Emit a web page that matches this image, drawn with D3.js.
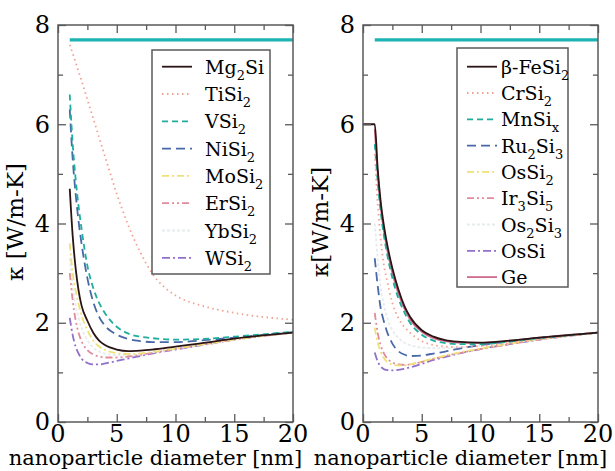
<!DOCTYPE html>
<html>
<head>
<meta charset="utf-8">
<script src="https://cdn.jsdelivr.net/npm/d3@7"></script>
<style>
  body { margin: 0; background: #fff; }
</style>
</head>
<body>
<svg width="615" height="471"></svg>
<script>
// diameters (nm) at which the curves were read
const dGrid = [1, 1.25, 1.5, 1.75, 2, 2.5, 3, 3.5, 4, 5, 6, 7, 8, 10, 12, 15, 20];

// left panel
const leftNames = ["Mg_2Si", "TiSi_2", "VSi_2", "NiSi_2", "MoSi_2", "ErSi_2", "YbSi_2", "WSi_2"];
const mg2si  = [4.7, 3.75, 3.1, 2.65, 2.35, 2.04, 1.8, 1.64, 1.55, 1.46, 1.43, 1.44, 1.46, 1.52, 1.58, 1.68, 1.8];
const tisi2  = [7.6, 7.43, 7.25, 7.06, 6.88, 6.5, 6.12, 5.73, 5.35, 4.6, 3.95, 3.42, 3.0, 2.55, 2.36, 2.2, 2.06];
const vsi2   = [6.6, 5.6, 4.9, 4.35, 3.9, 3.15, 2.7, 2.4, 2.19, 1.92, 1.78, 1.72, 1.69, 1.66, 1.67, 1.72, 1.82];
const nisi2  = [6.3, 5.3, 4.6, 4.05, 3.6, 2.9, 2.42, 2.12, 1.94, 1.76, 1.67, 1.63, 1.61, 1.61, 1.64, 1.7, 1.81];
const mosi2  = [3.6, 3.0, 2.65, 2.38, 2.15, 1.85, 1.64, 1.52, 1.45, 1.39, 1.37, 1.38, 1.41, 1.48, 1.55, 1.66, 1.8];
const ersi2  = [3.0, 2.45, 2.05, 1.8, 1.63, 1.45, 1.36, 1.32, 1.3, 1.3, 1.32, 1.35, 1.39, 1.47, 1.55, 1.66, 1.8];
const ybsi2  = [3.3, 2.75, 2.35, 2.1, 1.9, 1.65, 1.5, 1.42, 1.38, 1.35, 1.35, 1.37, 1.4, 1.47, 1.55, 1.66, 1.8];
const wsi2   = [2.1, 1.75, 1.52, 1.38, 1.28, 1.19, 1.16, 1.16, 1.18, 1.23, 1.28, 1.33, 1.38, 1.46, 1.54, 1.66, 1.8];

// right panel
const rightNames = ["β-FeSi_2", "CrSi_2", "MnSi_x", "Ru_2Si_3", "OsSi_2", "Ir_3Si_5", "Os_2Si_3", "OsSi", "Ge"];
const fesi2Grid = [0].concat(dGrid);
const fesi2  = [6.0, 6.0, 5.1, 4.45, 4.0, 3.65, 3.1, 2.68, 2.35, 2.12, 1.85, 1.72, 1.65, 1.62, 1.6, 1.63, 1.7, 1.8];
const crsi2  = [5.4, 4.4, 3.7, 3.2, 2.9, 2.4, 2.1, 1.92, 1.8, 1.63, 1.55, 1.52, 1.51, 1.53, 1.58, 1.67, 1.8];
const mnsix  = [5.6, 4.85, 4.25, 3.8, 3.45, 2.9, 2.5, 2.22, 2.0, 1.76, 1.64, 1.59, 1.57, 1.57, 1.61, 1.69, 1.8];
const ru2si3 = [3.3, 2.75, 2.3, 2.05, 1.85, 1.58, 1.43, 1.36, 1.33, 1.34, 1.38, 1.42, 1.47, 1.55, 1.61, 1.69, 1.8];
const ossi2  = [1.9, 1.6, 1.42, 1.3, 1.22, 1.16, 1.14, 1.14, 1.16, 1.22, 1.28, 1.34, 1.39, 1.48, 1.56, 1.67, 1.8];
const ir3si5 = [2.2, 1.8, 1.55, 1.4, 1.3, 1.2, 1.16, 1.15, 1.16, 1.21, 1.27, 1.33, 1.38, 1.47, 1.55, 1.66, 1.8];
const os2si3 = [4.0, 3.3, 2.7, 2.4, 2.15, 1.85, 1.7, 1.6, 1.55, 1.5, 1.49, 1.49, 1.5, 1.54, 1.59, 1.67, 1.8];
const ossi   = [1.4, 1.22, 1.12, 1.07, 1.05, 1.04, 1.05, 1.07, 1.1, 1.17, 1.25, 1.31, 1.37, 1.47, 1.55, 1.66, 1.8];
const ge     = [5.9, 5.0, 4.35, 3.9, 3.55, 3.0, 2.6, 2.3, 2.07, 1.82, 1.69, 1.63, 1.6, 1.59, 1.62, 1.7, 1.8];

// bulk (crystalline) level drawn across the top
const bulkLine = [[1, 7.7], [20, 7.7]];

const xTicks = [0, 5, 10, 15, 20];
const yTicks = [0, 2, 4, 6, 8];

// line styles, one per legend row (same for both panels)
const styles = [
  { color: "#2a1414", dash: null },
  { color: "#f2a090", dash: "1.5,3.5" },
  { color: "#1fae9c", dash: "6,4" },
  { color: "#4868a8", dash: "9,5" },
  { color: "#efe07a", dash: "7,3,2,3" },
  { color: "#e08c9c", dash: "7,3,2,3,2,3" },
  { color: "#e6ecee", dash: "3,2" },
  { color: "#9070c8", dash: "8,3,2,3" },
  { color: "#d06a8a", dash: null }
];

const FONT = "'DejaVu Serif', 'Liberation Serif', 'Times New Roman', serif";
const svg = d3.select("svg").style("font-family", FONT);

function drawPanel(cfg) {
  const x = d3.scaleLinear().domain([0, 20]).range([cfg.left, cfg.right]);
  const y = d3.scaleLinear().domain([0, 8]).range([422, 25]);
  const g = svg.append("g");

  const clipId = "clip" + cfg.id;
  g.append("clipPath").attr("id", clipId).append("rect")
    .attr("x", cfg.left).attr("y", 25)
    .attr("width", cfg.right - cfg.left).attr("height", 397);

  const line = d3.line().x(d => x(d[0])).y(d => y(d[1])).curve(d3.curveMonotoneX);

  const plot = g.append("g").attr("clip-path", `url(#${clipId})`);

  plot.append("path")
    .attr("d", line(bulkLine))
    .attr("fill", "none")
    .attr("stroke", "#1db3b3")
    .attr("stroke-width", 3.2);

  // draw reversed so the first series ends on top
  cfg.series.slice().reverse().forEach(s => {
    const st = styles[s.style];
    plot.append("path")
      .attr("d", line(s.d.map((d, i) => [d, s.k[i]])))
      .attr("fill", "none")
      .attr("stroke", st.color)
      .attr("stroke-width", 1.8)
      .attr("stroke-dasharray", st.dash);
  });

  // frame
  g.append("rect")
    .attr("x", cfg.left).attr("y", 25)
    .attr("width", cfg.right - cfg.left).attr("height", 397)
    .attr("fill", "none").attr("stroke", "#5a5a5a").attr("stroke-width", 1.5);

  // inward ticks on all four sides
  const minorX = d3.range(2.5, 20, 5), minorY = d3.range(1, 8, 2);
  const axes = [
    [d3.axisBottom(x).tickValues(xTicks).tickSize(-8), "translate(0,422)"],
    [d3.axisBottom(x).tickValues(minorX).tickSize(-5), "translate(0,422)"],
    [d3.axisTop(x).tickValues(xTicks).tickSize(-8), "translate(0,25)"],
    [d3.axisTop(x).tickValues(minorX).tickSize(-5), "translate(0,25)"],
    [d3.axisLeft(y).tickValues(yTicks).tickSize(-8), `translate(${cfg.left},0)`],
    [d3.axisLeft(y).tickValues(minorY).tickSize(-5), `translate(${cfg.left},0)`],
    [d3.axisRight(y).tickValues(yTicks).tickSize(-8), `translate(${cfg.right},0)`],
    [d3.axisRight(y).tickValues(minorY).tickSize(-5), `translate(${cfg.right},0)`]
  ];
  axes.forEach(([ax, tr]) => {
    const a = g.append("g").attr("transform", tr).call(ax.tickFormat(""));
    a.select(".domain").remove();
    a.selectAll("line").attr("stroke", "#5a5a5a").attr("stroke-width", 1.3);
  });

  // tick labels
  g.selectAll(".xl").data(xTicks).enter().append("text")
    .attr("x", d => x(d)).attr("y", 442)
    .attr("text-anchor", "middle")
    .style("font-size", "24px")
    .text(d => d);
  g.selectAll(".yl").data(yTicks).enter().append("text")
    .attr("x", cfg.left - 8).attr("y", d => y(d)).attr("dy", "0.35em")
    .attr("text-anchor", "end")
    .style("font-size", "24px")
    .text(d => d);

  // axis titles
  g.append("text")
    .attr("x", (cfg.left + cfg.right) / 2 - 20).attr("y", 465)
    .attr("text-anchor", "middle")
    .style("font-size", "21px")
    .text("nanoparticle diameter [nm]");
  g.append("text")
    .attr("transform", `translate(${cfg.left - 35},222) rotate(-90)`)
    .attr("text-anchor", "middle")
    .style("font-size", "23px")
    .text(cfg.yTitle);

  // legend
  const lg = g.append("g");
  lg.append("rect")
    .attr("x", cfg.legend.x).attr("y", cfg.legend.y)
    .attr("width", cfg.legend.w).attr("height", cfg.legend.h)
    .attr("fill", "#fff").attr("stroke", "#5a5a5a").attr("stroke-width", 1.5);
  cfg.series.forEach((s, i) => {
    const st = styles[s.style];
    const ly = cfg.legend.row0 + i * cfg.legend.gap;
    lg.append("line")
      .attr("x1", cfg.legend.x + 10).attr("x2", cfg.legend.x + 40)
      .attr("y1", ly).attr("y2", ly)
      .attr("stroke", st.color).attr("stroke-width", 1.8)
      .attr("stroke-dasharray", st.dash);
    const t = lg.append("text")
      .attr("x", cfg.legend.x + cfg.legend.textDx).attr("y", ly + 7)
      .style("font-size", "19px");
    s.name.split(/_(.)/).forEach((part, j) => {
      if (!part) return;
      if (j % 2 === 1) {
        t.append("tspan").attr("dy", 6).style("font-size", "13px").text(part);
      } else {
        t.append("tspan").attr("dy", j === 0 ? 0 : -6).text(part);
      }
    });
  });
}

drawPanel({
  id: "L", left: 58, right: 293, yTitle: "κ [W/m-K]",
  legend: { x: 152, y: 50, w: 118, h: 224, row0: 66.7, gap: 27.3, textDx: 53 },
  series: [
    { name: leftNames[0], d: dGrid, k: mg2si, style: 0 },
    { name: leftNames[1], d: dGrid, k: tisi2, style: 1 },
    { name: leftNames[2], d: dGrid, k: vsi2, style: 2 },
    { name: leftNames[3], d: dGrid, k: nisi2, style: 3 },
    { name: leftNames[4], d: dGrid, k: mosi2, style: 4 },
    { name: leftNames[5], d: dGrid, k: ersi2, style: 5 },
    { name: leftNames[6], d: dGrid, k: ybsi2, style: 6 },
    { name: leftNames[7], d: dGrid, k: wsi2, style: 7 }
  ]
});

drawPanel({
  id: "R", left: 363, right: 598, yTitle: "κ[W/m-K]",
  legend: { x: 457, y: 48, w: 111, h: 239, row0: 66.7, gap: 26.3, textDx: 44 },
  series: [
    { name: rightNames[0], d: fesi2Grid, k: fesi2, style: 0 },
    { name: rightNames[1], d: dGrid, k: crsi2, style: 1 },
    { name: rightNames[2], d: dGrid, k: mnsix, style: 2 },
    { name: rightNames[3], d: dGrid, k: ru2si3, style: 3 },
    { name: rightNames[4], d: dGrid, k: ossi2, style: 4 },
    { name: rightNames[5], d: dGrid, k: ir3si5, style: 5 },
    { name: rightNames[6], d: dGrid, k: os2si3, style: 6 },
    { name: rightNames[7], d: dGrid, k: ossi, style: 7 },
    { name: rightNames[8], d: dGrid, k: ge, style: 8 }
  ]
});
</script>
</body>
</html>
